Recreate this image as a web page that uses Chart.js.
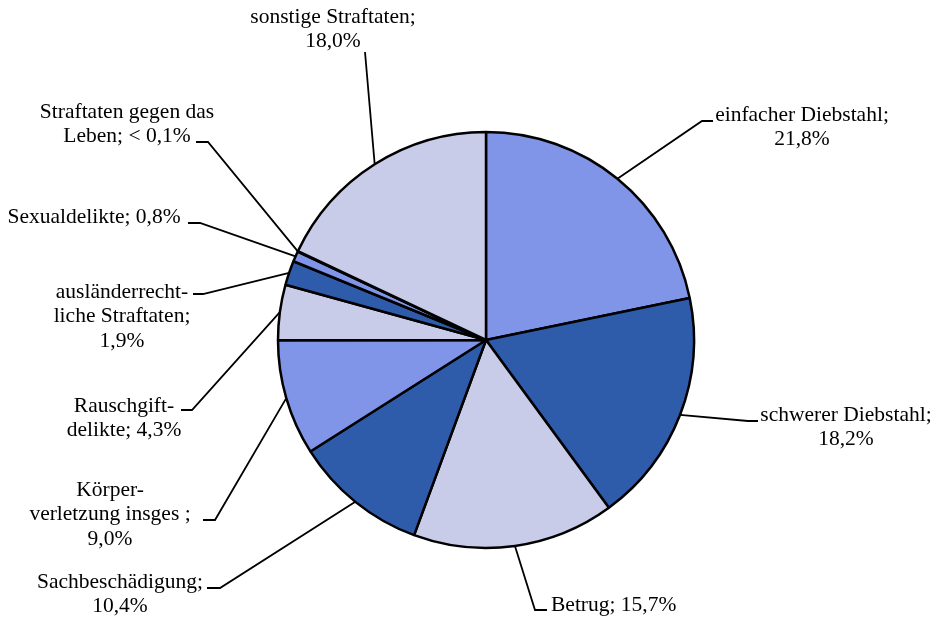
<!DOCTYPE html>
<html>
<head>
<meta charset="utf-8">
<script src="https://cdn.jsdelivr.net/npm/chart.js@4"></script>
<style>
  html, body { margin: 0; padding: 0; background: #fff; }
  #wrap { width: 934px; height: 618px; position: relative; }
</style>
</head>
<body>
<div id="wrap"><canvas id="pie"></canvas></div>
<script>
// ── Data ───────────────────────────────────────────────
const categories = [
    'einfacher Diebstahl', 'schwerer Diebstahl', 'Betrug', 'Sachbeschädigung',
    'Körperverletzung insges', 'Rauschgiftdelikte', 'ausländerrechtliche Straftaten',
    'Sexualdelikte', 'Straftaten gegen das Leben', 'sonstige Straftaten'
];
const shares = [21.8, 18.2, 15.7, 10.4, 9.0, 4.3, 1.9, 0.8, 0.05, 18.0];
const labelLines = [
    ['einfacher Diebstahl;', '21,8%'],
    ['schwerer Diebstahl;', '18,2%'],
    ['Betrug; 15,7%'],
    ['Sachbeschädigung;', '10,4%'],
    ['Körper-', 'verletzung insges ;', '9,0%'],
    ['Rauschgift-', 'delikte; 4,3%'],
    ['ausländerrecht-', 'liche Straftaten;', '1,9%'],
    ['Sexualdelikte; 0,8%'],
    ['Straftaten gegen das', 'Leben; < 0,1%'],
    ['sonstige Straftaten;', '18,0%']
];

const LIGHT = '#8094E8', DARK = '#2E5BAA', LAV = '#C8CCE8';
const sliceColors = [LIGHT, DARK, LAV, DARK, LIGHT, LAV, DARK, LIGHT, LAV, LAV];

// label placement: elbow point, tick end x, text anchor x / first line y, align
const labelLayout = [
    { ex: 702, ey: 121, tx2: 713, tx: 802, ty: 115, align: 'center' },
    { ex: 748, ey: 421, tx2: 758, tx: 846, ty: 415, align: 'center' },
    { ex: 535, ey: 610, tx2: 547, tx: 551, ty: 605, align: 'left' },
    { ex: 220, ey: 588, tx2: 207, tx: 120, ty: 582, align: 'center' },
    { ex: 215, ey: 520, tx2: 203, tx: 110, ty: 490, align: 'center' },
    { ex: 192, ey: 410, tx2: 181, tx: 124, ty: 406, align: 'center' },
    { ex: 203, ey: 294, tx2: 193, tx: 122, ty: 292, align: 'center' },
    { ex: 200, ey: 223, tx2: 188, tx: 94,  ty: 217, align: 'center' },
    { ex: 208, ey: 142, tx2: 196, tx: 127, ty: 112, align: 'center' },
    { ex: 365, ey: 52,  tx2: 365, tx: 333, ty: 17,  align: 'center' }
];

const FONT = '21.5px "Liberation Serif", "Times New Roman", serif';
const LINE_H = 24.5;

// leader lines + labels
const leaderLabels = {
    id: 'leaderLabels',
    afterDatasetsDraw(chart) {
        const ctx = chart.ctx;
        const arcs = chart.getDatasetMeta(0).data;
        ctx.save();
        ctx.strokeStyle = '#000';
        ctx.lineWidth = 1.8;
        arcs.forEach((arc, i) => {
            const p = arc.getProps(['x', 'y', 'startAngle', 'endAngle', 'outerRadius'], true);
            const mid = (p.startAngle + p.endAngle) / 2;
            const sx = p.x + Math.cos(mid) * p.outerRadius;
            const sy = p.y + Math.sin(mid) * p.outerRadius;
            const L = labelLayout[i];
            ctx.beginPath();
            ctx.moveTo(sx, sy);
            ctx.lineTo(L.ex, L.ey);
            ctx.lineTo(L.tx2, L.ey);
            ctx.stroke();
        });
        ctx.fillStyle = '#000';
        ctx.font = FONT;
        ctx.textBaseline = 'middle';
        labelLines.forEach((lines, i) => {
            const L = labelLayout[i];
            ctx.textAlign = L.align;
            lines.forEach((t, k) => ctx.fillText(t, L.tx, L.ty + k * LINE_H));
        });
        ctx.restore();
    }
};

new Chart(document.getElementById('pie'), {
    type: 'pie',
    data: {
        labels: categories,
        datasets: [{
            data: shares,
            backgroundColor: sliceColors,
            borderColor: '#000',
            borderWidth: 2.5,
            radius: 208
        }]
    },
    options: {
        responsive: true,
        maintainAspectRatio: false,
        animation: false,
        layout: { padding: { left: 38, right: 0, top: 62, bottom: 0 } },
        plugins: {
            legend: { display: false },
            tooltip: { enabled: false }
        }
    },
    plugins: [leaderLabels]
});
</script>
</body>
</html>
